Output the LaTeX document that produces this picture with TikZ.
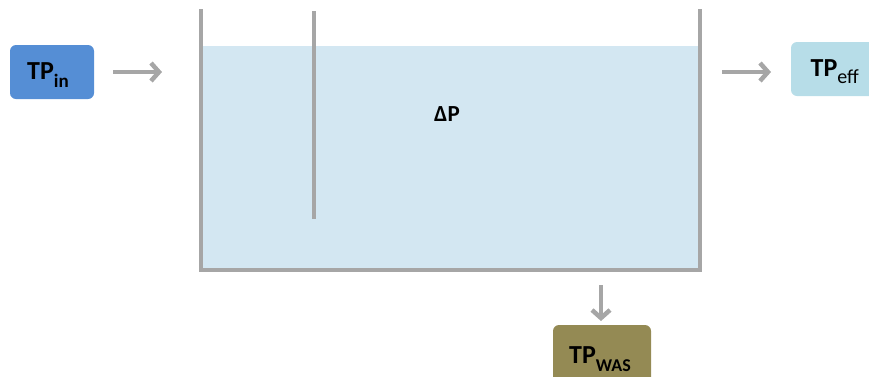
\documentclass[tikz,border=0pt]{standalone}
\usepackage{fontspec}
\setmainfont{Carlito}
\usetikzlibrary{arrows.meta}
\definecolor{wall}{HTML}{A6A6A6}
\definecolor{water}{HTML}{D3E7F2}
\definecolor{inblue}{HTML}{558ED5}
\definecolor{effblue}{HTML}{B7DDE8}
\definecolor{wasolive}{HTML}{948A54}
\newcommand{\tpsub}[3]{\textbf{TP\raisebox{-#2pt}{\fontsize{#3}{#3}\selectfont #1}}}
\tikzset{
  tpbox/.style={rounded corners=6pt, inner sep=0pt},
  tplabel/.style={font=\fontsize{26}{26}\selectfont\bfseries, inner sep=0pt, anchor=base west},
  flow/.style={draw=wall, line width=4.5pt, -{Straight Barb[length=8pt,width=18pt,line width=4.5pt]}},
  wallline/.style={draw=wall, line width=4pt}
}
\begin{document}
\begin{tikzpicture}[x=1pt,y=-1pt]
\useasboundingbox (0,0) rectangle (869,376);
\clip (0,0) rectangle (869,376);
% water
\fill[water] (203,46) rectangle (698,270);
% walls
\draw[wallline] (201,9) -- (201,270) -- (700,270) -- (700,9);
\draw[wallline] (314,11) -- (314,219);
% boxes
\fill[inblue, tpbox] (10,45) rectangle (94,99);
\node[tplabel] (in) at (27,79.5) {\tpsub{in}{7.5}{19}};
\fill[effblue, tpbox] (791,42) rectangle (890,96);
\node[tplabel] (eff) at (810.5,76.5) {\textbf{TP\raisebox{-7.3pt}{\fontsize{20}{20}\selectfont\mdseries eff}}};
\fill[wasolive, tpbox] (553,325) rectangle (651,395);
\node[tplabel] (was) at (569,363.5) {\tpsub{WAS}{8.4}{18}};
\node[font=\fontsize{23}{23}\selectfont\bfseries, inner sep=0pt, anchor=base west] (dp) at (434,121.5) {ΔP};
% arrows
\coordinate (a1s) at (113,72); \coordinate (a1e) at (162,72);
\coordinate (a2s) at (722,72); \coordinate (a2e) at (771,72);
\coordinate (a3s) at (601,285); \coordinate (a3e) at (601,321);
\draw[flow] (a1s) -- (a1e);
\draw[flow] (a2s) -- (a2e);
\draw[flow] (a3s) -- (a3e);
\end{tikzpicture}
\end{document}
